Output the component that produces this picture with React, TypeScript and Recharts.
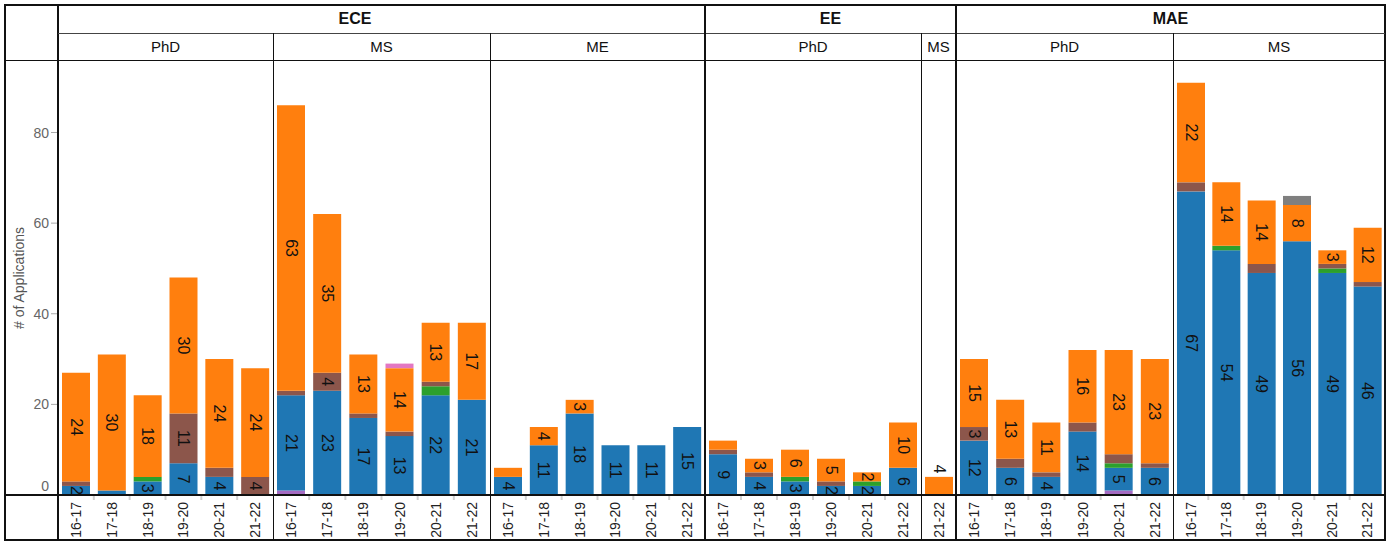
import { BarChart, Bar, XAxis, YAxis, LabelList } from 'recharts'

const years = ['16-17', '17-18', '18-19', '19-20', '20-21', '21-22']

const depts = ['ECE', 'EE', 'MAE']
const panelDepts = ['ECE', 'ECE', 'ECE', 'EE', 'EE', 'MAE', 'MAE']
const panelDegrees = ['PhD', 'MS', 'ME', 'PhD', 'MS', 'PhD', 'MS']
const panelYears = [years, years, years, years, ['21-22'], years, years]

// one list per stacked colour, panel by panel: ECE PhD | ECE MS | ECE ME | EE PhD | EE MS | MAE PhD | MAE MS
const purple = [0, 0, 0, 0, 0, 0, 1, 0, 0, 0, 0, 0, 0, 0, 0, 0, 0, 0, 0, 0, 0, 0, 0, 0, 0, 0, 0, 0, 0, 1, 0, 0, 0, 0, 0, 0, 0]
const blue = [2, 1, 3, 7, 4, 0, 21, 23, 17, 13, 22, 21, 4, 11, 18, 11, 11, 15, 9, 4, 3, 2, 2, 6, 0, 12, 6, 4, 14, 5, 6, 67, 54, 49, 56, 49, 46]
const green = [0, 0, 1, 0, 0, 0, 0, 0, 0, 0, 2, 0, 0, 0, 0, 0, 0, 0, 0, 0, 1, 0, 1, 0, 0, 0, 0, 0, 0, 1, 0, 0, 1, 0, 0, 1, 0]
const brown = [1, 0, 0, 11, 2, 4, 1, 4, 1, 1, 1, 0, 0, 0, 0, 0, 0, 0, 1, 1, 0, 1, 0, 0, 0, 3, 2, 1, 2, 2, 1, 2, 0, 2, 0, 1, 1]
const orange = [24, 30, 18, 30, 24, 24, 63, 35, 13, 14, 13, 17, 2, 4, 3, 0, 0, 0, 2, 3, 6, 5, 2, 10, 4, 15, 13, 11, 16, 23, 23, 22, 14, 14, 8, 3, 12]
const pink = [0, 0, 0, 0, 0, 0, 0, 0, 0, 1, 0, 0, 0, 0, 0, 0, 0, 0, 0, 0, 0, 0, 0, 0, 0, 0, 0, 0, 0, 0, 0, 0, 0, 0, 0, 0, 0]
const grey = [0, 0, 0, 0, 0, 0, 0, 0, 0, 0, 0, 0, 0, 0, 0, 0, 0, 0, 0, 0, 0, 0, 0, 0, 0, 0, 0, 0, 0, 0, 0, 0, 0, 0, 2, 0, 0]

const yTicks = [0, 20, 40, 60, 80]

// bottom to top
const series = [
  { key: 'purple', color: '#a46bc2', values: purple },
  { key: 'blue', color: '#1f77b4', values: blue },
  { key: 'green', color: '#2ca02c', values: green },
  { key: 'brown', color: '#8c564b', values: brown },
  { key: 'orange', color: '#ff7f0e', values: orange },
  { key: 'pink', color: '#e377c2', values: pink },
  { key: 'grey', color: '#7f7f7f', values: grey },
]

const labelMin: Record<string, number> = { blue: 2, orange: 2, brown: 3 }
const hiddenLabels = ['ECE ME 16-17 orange', 'EE PhD 16-17 orange']
const labelsAbove = ['EE MS 21-22 orange']

// layout
const edges = [58, 273, 490, 705, 921, 956, 1173, 1385]
const plotTop = 60
const plotBottom = 495
const axisH = 45
const yAxisW = 53
const font = '"Liberation Sans", Arial, sans-serif'

const offsets = panelYears.map((_, p) => panelYears.slice(0, p).reduce((s, ys) => s + ys.length, 0))

const panelData = panelYears.map((ys, p) =>
  ys.map((year, i) => {
    const row: Record<string, string | number> = { year }
    series.forEach((s) => (row[s.key] = s.values[offsets[p] + i]))
    return row
  })
)

const makeLabel = (panel: string, rows: Record<string, string | number>[], key: string) => (props: any) => {
  const vb = props.viewBox ?? props
  const { x, y, width, height } = vb
  const v = Number(props.value)
  const row = rows[props.index]
  const id = `${panel} ${row ? row.year : ''} ${key}`
  if (!(v >= (labelMin[key] ?? 999)) || hiddenLabels.includes(id)) return null
  const cx = x + width / 2
  const cy = labelsAbove.includes(id) ? y - 8 : y + height / 2
  return (
    <text
      transform={`translate(${cx},${cy}) rotate(90)`}
      textAnchor="middle"
      dominantBaseline="central"
      fontSize={16}
      fill="#111"
    >
      {v}
    </text>
  )
}

const XTick = (props: any) => {
  const { x, y, payload, index, band } = props
  return (
    <g>
      {index > 0 && <line x1={x - band / 2} x2={x - band / 2} y1={y} y2={y + 5} stroke="#d0d0d0" strokeWidth={2} />}
      <text
        transform={`translate(${x},${y + 7}) rotate(-90)`}
        textAnchor="end"
        dominantBaseline="central"
        fontSize={14}
        fill="#222"
      >
        {payload.value}
      </text>
    </g>
  )
}

const YTick = (props: any) => {
  const { x, y, payload } = props
  return (
    <text x={x} y={payload.value === 0 ? y - 9 : y} textAnchor="end" dominantBaseline="central" fontSize={14} fill="#666">
      {payload.value}
    </text>
  )
}

function Line({ x, y, w, h, c = '#111' }: { x: number; y: number; w: number; h: number; c?: string }) {
  return <div style={{ position: 'absolute', left: x, top: y, width: w, height: h, background: c, zIndex: 5 }} />
}

export default function App() {
  const deptSpans = depts.map((d) => {
    const idx = panelDepts.map((pd, i) => (pd === d ? i : -1)).filter((i) => i >= 0)
    return { d, x0: edges[idx[0]], x1: edges[idx[idx.length - 1] + 1] }
  })

  return (
    <div style={{ position: 'absolute', left: 0, top: 0, width: 1387, height: 542, background: '#fff', fontFamily: font }}>
      {panelData.map((rows, p) => {
        const first = p === 0
        const w = edges[p + 1] - edges[p]
        const band = w / rows.length
        const panel = `${panelDepts[p]} ${panelDegrees[p]}`
        return (
          <div
            key={p}
            style={{ position: 'absolute', left: first ? edges[0] - yAxisW : edges[p], top: plotTop }}
          >
            <BarChart
              width={w + (first ? yAxisW : 0)}
              height={plotBottom - plotTop + axisH}
              data={rows}
              margin={{ top: 0, right: 0, bottom: 0, left: 0 }}
              barSize={28}
            >
              <XAxis
                dataKey="year"
                height={axisH}
                axisLine={false}
                tickLine={false}
                tickSize={0}
                tickMargin={0}
                interval={0}
                tick={(tp: any) => <XTick {...tp} band={band} />}
              />
              {first ? (
                <YAxis
                  domain={[0, 96]}
                  ticks={yTicks}
                  width={yAxisW}
                  axisLine={false}
                  tickSize={7}
                  tickMargin={2}
                  tickLine={{ stroke: '#aaa' }}
                  tick={<YTick />}
                />
              ) : (
                <YAxis hide domain={[0, 96]} />
              )}
              {series.map((s) => (
                <Bar key={s.key} dataKey={s.key} stackId="a" fill={s.color} isAnimationActive={false}>
                  {labelMin[s.key] ? (
                    <LabelList dataKey={s.key} content={makeLabel(panel, rows, s.key)} />
                  ) : null}
                </Bar>
              ))}
            </BarChart>
          </div>
        )
      })}

      {/* y axis title */}
      <div
        style={{
          position: 'absolute',
          left: 19,
          top: (plotTop + plotBottom) / 2,
          transform: 'translate(-50%, -50%) rotate(-90deg)',
          whiteSpace: 'nowrap',
          fontSize: 14,
          color: '#555',
        }}
      >
        # of Applications
      </div>

      {/* header texts; the first one is centred over the y-axis column too */}
      {deptSpans.map((s, i) => (
        <div
          key={s.d}
          style={{
            position: 'absolute',
            left: i === 0 ? 5 : s.x0,
            width: s.x1 - (i === 0 ? 5 : s.x0),
            top: 5,
            height: 28,
            lineHeight: '28px',
            textAlign: 'center',
            fontWeight: 'bold',
            fontSize: 16,
            color: '#111',
          }}
        >
          {s.d}
        </div>
      ))}
      {panelDegrees.map((deg, p) => (
        <div
          key={p}
          style={{
            position: 'absolute',
            left: edges[p],
            width: edges[p + 1] - edges[p],
            top: 33,
            height: 27,
            lineHeight: '27px',
            textAlign: 'center',
            fontSize: 15,
            color: '#111',
          }}
        >
          {deg}
        </div>
      ))}

      {/* frame */}
      <Line x={5} y={4} w={1381} h={2} />
      <Line x={5} y={539} w={1381} h={2} />
      <Line x={4} y={4} w={2} h={537} />
      <Line x={1384} y={4} w={2} h={537} />
      <Line x={edges[0] - 1} y={4} w={2} h={537} />
      <Line x={edges[0]} y={33} w={1385 - edges[0]} h={1} c="#444" />
      <Line x={5} y={plotTop} w={1380} h={1} />
      <Line x={5} y={plotBottom - 1} w={1380} h={2} />
      {deptSpans.slice(1).map((s) => (
        <Line key={s.d} x={s.x0 - 1} y={4} w={2} h={537} />
      ))}
      {edges.slice(1, -1)
        .filter((e) => !deptSpans.some((s) => s.x0 === e))
        .map((e) => (
          <Line key={e} x={e} y={33} w={1} h={507} />
        ))}
    </div>
  )
}
